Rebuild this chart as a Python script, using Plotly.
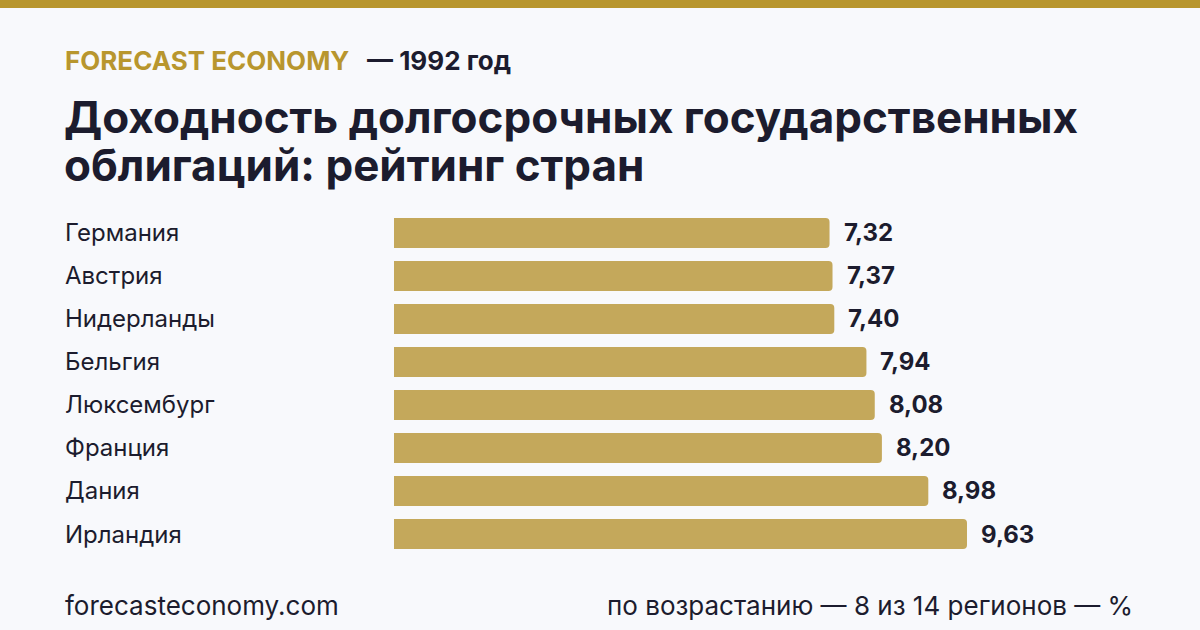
import plotly.graph_objects as go

# данные: доходность долгосрочных гособлигаций, 1992 год, %
countries = ['Германия', 'Австрия', 'Нидерланды', 'Бельгия',
             'Люксембург', 'Франция', 'Дания', 'Ирландия']
yields = [7.32, 7.37, 7.40, 7.94, 8.08, 8.20, 8.98, 9.63]

W, H = 1200, 630
GOLD = '#b8962e'
BAR = '#c4a85b'
INK = '#1c1c2e'
BG = '#f8f9fc'
FONT = 'Inter'


def px(x):
    return x / W


def py(y):
    return 1 - y / H


fig = go.Figure()

fig.add_trace(go.Bar(
    x=yields, y=countries, orientation='h',
    marker=dict(color=BAR, cornerradius=4, line=dict(width=0)),
    width=0.7, hoverinfo='skip'
))

# подписи значений справа от столбцов
for c, v in zip(countries, yields):
    fig.add_annotation(
        x=v, y=c, xref='x', yref='y',
        text=f'{v:.2f}'.replace('.', ','),
        showarrow=False, xanchor='left', xshift=12,
        font=dict(family=FONT, size=24, color=INK, weight='bold')
    )

# названия стран слева
for c in countries:
    fig.add_annotation(
        x=px(63), y=c, xref='paper', yref='y',
        text=c, showarrow=False, xanchor='left',
        font=dict(family=FONT, size=24, color=INK)
    )

# шапка
fig.add_annotation(x=px(63), y=py(61), xref='paper', yref='paper',
                   text='FORECAST ECONOMY', showarrow=False,
                   xanchor='left', yanchor='middle',
                   font=dict(family=FONT, size=26, color=GOLD, weight='bold'))
fig.add_annotation(x=px(365), y=py(61), xref='paper', yref='paper',
                   text='— 1992 год', showarrow=False,
                   xanchor='left', yanchor='middle',
                   font=dict(family=FONT, size=26, color=INK, weight='bold'))
fig.add_annotation(x=px(62), y=py(117), xref='paper', yref='paper',
                   text='Доходность долгосрочных государственных', showarrow=False,
                   xanchor='left', yanchor='middle',
                   font=dict(family=FONT, size=44, color=INK, weight='bold'))
fig.add_annotation(x=px(62), y=py(165), xref='paper', yref='paper',
                   text='облигаций: рейтинг стран', showarrow=False,
                   xanchor='left', yanchor='middle',
                   font=dict(family=FONT, size=44, color=INK, weight='bold'))

# подвал
fig.add_annotation(x=px(63), y=py(605), xref='paper', yref='paper',
                   text='forecasteconomy.com', showarrow=False,
                   xanchor='left', yanchor='middle',
                   font=dict(family=FONT, size=26, color=INK))
fig.add_annotation(x=px(1135), y=py(605), xref='paper', yref='paper',
                   text='по возрастанию — 8 из 14 регионов — %', showarrow=False,
                   xanchor='right', yanchor='middle',
                   font=dict(family=FONT, size=26, color=INK))

# золотая полоса сверху
fig.add_shape(type='rect', xref='paper', yref='paper',
              x0=0, x1=1, y0=py(8), y1=1,
              fillcolor=GOLD, line=dict(width=0), layer='above')

fig.update_layout(
    width=W, height=H,
    margin=dict(l=0, r=0, t=0, b=0),
    paper_bgcolor=BG, plot_bgcolor=BG,
    showlegend=False,
    xaxis=dict(domain=[px(394), 1], range=[0, 806 / 59.5],
               visible=False, fixedrange=True),
    yaxis=dict(domain=[py(555.5), py(211.5)], range=[7.5, -0.5],
               visible=False, fixedrange=True),
)

fig.write_html('out.html', config={'displayModeBar': False},
               post_script="document.body.style.margin='0';")
